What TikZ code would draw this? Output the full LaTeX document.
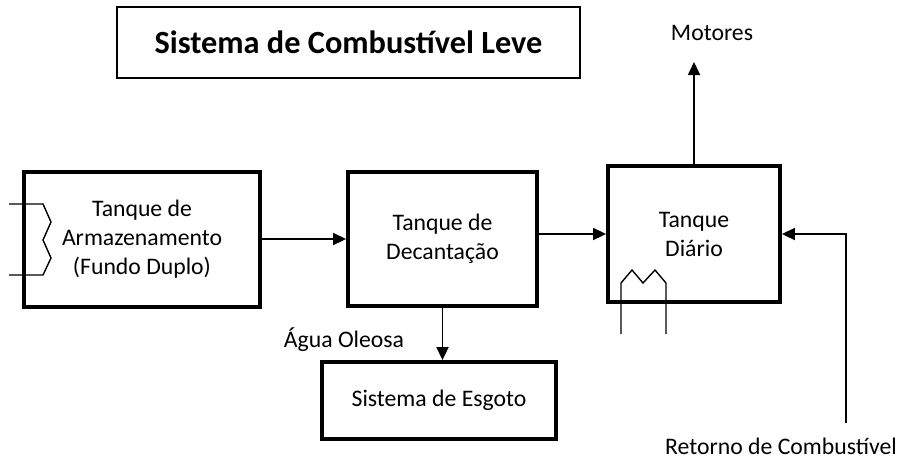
\documentclass[tikz,border=0pt]{standalone}
\usepackage{fontspec}
\setmainfont{Carlito}
\usepackage{tikz}
\usetikzlibrary{arrows.meta, positioning}
\tikzstyle{tanque} = [rectangle, draw = black, line width = 2.2pt, align = center, font = \fontsize{13.5}{16.5}\selectfont]
\tikzstyle{rotulo} = [font = \fontsize{13.5}{16}\selectfont]
\tikzstyle{seta} = [line width = 1pt, -{Triangle[length = 0.26cm, width = 0.24cm]}]

\begin{document}
\begin{tikzpicture}[x = 0.02cm, y = -0.02cm]
\useasboundingbox (0,0) rectangle (898,461);

\node (titulo) [rectangle, draw = black, line width = 0.8pt, minimum width = 9.26cm, minimum height = 1.42cm, font = \bfseries\fontsize{18.4}{22}\selectfont] at (348.5,42.5) {Sistema de Combustível Leve};

\node (arm) [tanque, minimum width = 4.72cm, minimum height = 2.7cm] at (142,239.5) {Tanque de\\Armazenamento\\(Fundo Duplo)};
\node (dec) [tanque, minimum width = 3.78cm, minimum height = 2.68cm] at (442.5,239) {Tanque de\\Decantação};
\node (diario) [tanque, minimum width = 3.44cm, minimum height = 2.72cm] at (694,234) {Tanque\\Diário};
\node (esg) [tanque, minimum width = 4.68cm, minimum height = 1.54cm] at (439,400.5) {Sistema de Esgoto};

\node (oleosa) [rotulo] at (344,340) {Água Oleosa};
\node (mot) [rotulo] at (712,33) {Motores};
\node (retorno) [rotulo] at (781,446) {Retorno de Combustível};

\coordinate (motores) at (694,62);
\coordinate (ret) at (846,423);

% fundo duplo
\draw[line width = 0.8pt] (9,204) -- (43,204) -- (51,222) -- (43,240) -- (51,258) -- (43,275) -- (9,275);
% aquecedor
\draw[line width = 0.8pt] (621,334) -- (621,283) -- (632,270) -- (643,283) -- (655,270) -- (666,283) -- (666,334);

\draw[seta] (arm.east |- dec) -- (dec.west);
\draw[seta] (dec.east |- diario) -- (diario.west);
\draw[seta] (dec.south) -- (dec.south |- esg.north);
\draw[seta] (diario.north) -- (motores);
\draw[seta] (ret) |- (diario.east);

\end{tikzpicture}
\end{document}
